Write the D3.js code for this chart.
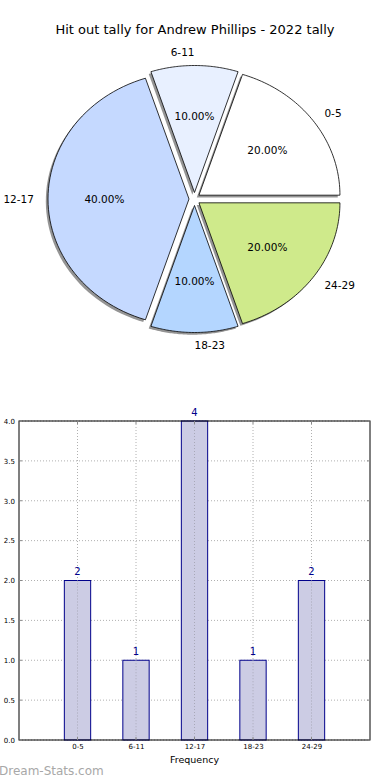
<!DOCTYPE html>
<html><head><meta charset="utf-8">
<script src="https://cdn.jsdelivr.net/npm/d3@7"></script>
<style>body{margin:0;background:#fff}svg{display:block}text{font-family:"DejaVu Sans",sans-serif}</style>
</head><body>
<svg id="c" width="390" height="780"></svg>
<script>
const title = "Hit out tally for Andrew Phillips - 2022 tally";
const categories = ["0-5","6-11","12-17","18-23","24-29"];
const counts = [2,1,4,1,2];
const sliceColors = ["#ffffff","#e8f0ff","#c5d9ff","#b4d6ff","#cfea8b"];
const yTicks = [0,0.5,1,1.5,2,2.5,3,3.5,4];
const xLabel = "Frequency";
const watermark = "Dream-Stats.com";

const svg = d3.select("#c");
svg.append("text").attr("x",195).attr("y",34).attr("text-anchor","middle")
  .attr("font-size",13).attr("fill","#000").text(title);

// ---- pie ----
const cx = 194.5, cy = 199, rx = 141, ry = 127, ex = 5.5, ey = 6.5;
const total = d3.sum(counts);
const pie = d3.pie().sort(null).startAngle(0).endAngle(2*Math.PI).value(d=>d);
const arcsData = pie(counts);
function wedgePath(a0, a1){
  const p = d3.path();
  p.moveTo(0,0);
  const n = 60;
  for(let i=0;i<=n;i++){
    const t = a0 + (a1-a0)*i/n;
    p.lineTo(rx*Math.cos(t), -ry*Math.sin(t));
  }
  p.closePath();
  return p.toString();
}
const pieG = svg.append("g");
const wedges = arcsData.map((d,i)=>{
  const a0 = d.startAngle, a1 = d.endAngle, am = (a0+a1)/2;
  const ox = cx + ex*Math.cos(am), oy = cy - ey*Math.sin(am);
  return {i, a0, a1, am, ox, oy, v:d.value};
});
pieG.selectAll("path.sh").data(wedges).join("path").attr("class","sh")
  .attr("transform",d=>`translate(${d.ox-2.2},${d.oy+2.2})`)
  .attr("d",d=>wedgePath(d.a0,d.a1))
  .attr("fill","#000").attr("fill-opacity",0.42).attr("stroke","none");
pieG.selectAll("path.w").data(wedges).join("path").attr("class","w")
  .attr("transform",d=>`translate(${d.ox},${d.oy})`)
  .attr("d",d=>wedgePath(d.a0,d.a1))
  .attr("fill",d=>sliceColors[d.i]).attr("stroke","#000").attr("stroke-width",0.8)
  .attr("stroke-linejoin","round");
wedges.forEach(d=>{
  const c = Math.cos(d.am), s = Math.sin(d.am);
  const lx = d.ox + 1.1*rx*c, ly = d.oy - 1.1*ry*s;
  let anchor = c > 1e-6 ? "start" : (c < -1e-6 ? "end" : (s>0?"end":"start"));
  pieG.append("text").attr("x",lx).attr("y",ly).attr("dy","0.35em")
    .attr("text-anchor",anchor).attr("font-size",10.5).text(categories[d.i]);
  const px = d.ox + 0.6*rx*c, py = d.oy - 0.6*ry*s;
  pieG.append("text").attr("x",px).attr("y",py).attr("dy","0.35em")
    .attr("text-anchor","middle").attr("font-size",10.5)
    .text((100*d.v/total).toFixed(2)+"%");
});

// ---- bar chart ----
const L = 19, R = 370, T = 421, B = 740;
const x = d3.scaleLinear().domain([0,6]).range([L,R]);
const y = d3.scaleLinear().domain([0,4]).range([B,T]);
const bg = svg.append("g");
const pos = categories.map((c,i)=>i+1);
bg.selectAll("line.gy").data(yTicks).join("line")
  .attr("x1",L).attr("x2",R).attr("y1",d=>y(d)).attr("y2",d=>y(d))
  .attr("stroke","#b0b0b0").attr("stroke-width",1).attr("stroke-dasharray","1,2");
bg.selectAll("line.gx").data(pos).join("line")
  .attr("y1",T).attr("y2",B).attr("x1",d=>x(d)).attr("x2",d=>x(d))
  .attr("stroke","#b0b0b0").attr("stroke-width",1).attr("stroke-dasharray","1,2");
const bw = 0.45;
bg.selectAll("rect.b").data(counts).join("rect")
  .attr("x",(d,i)=>x(pos[i]-bw/2)).attr("width",x(bw)-x(0))
  .attr("y",d=>y(d)).attr("height",d=>y(0)-y(d))
  .attr("fill","#ccccE4").attr("stroke","#00008b").attr("stroke-width",1);
bg.selectAll("line.gx2").data(pos).join("line")
  .attr("y1",(d,i)=>y(counts[i])).attr("y2",B).attr("x1",d=>x(d)).attr("x2",d=>x(d))
  .attr("stroke","#a8a8b8").attr("stroke-width",1).attr("stroke-dasharray","1,2");
bg.selectAll("text.v").data(counts).join("text")
  .attr("x",(d,i)=>x(pos[i])).attr("y",d=>y(d)-5.5).attr("text-anchor","middle")
  .attr("font-size",10).attr("fill","#00008b").text(d=>d);
bg.append("rect").attr("x",L).attr("y",T).attr("width",R-L).attr("height",B-T)
  .attr("fill","none").attr("stroke","#000").attr("stroke-width",1);
const yAx = bg.append("g").attr("transform",`translate(${L},0)`)
  .call(d3.axisLeft(y).tickValues(yTicks).tickFormat(d3.format(".1f")).tickSize(0).tickPadding(4));
yAx.select(".domain").remove();
yAx.selectAll("text").attr("font-size",7).attr("font-family","DejaVu Sans").attr("fill","#000");
bg.selectAll("line.tl").data(yTicks).join("line")
  .attr("x1",L).attr("x2",L+3).attr("y1",d=>y(d)).attr("y2",d=>y(d)).attr("stroke","#888");
bg.selectAll("line.tr").data(yTicks).join("line")
  .attr("x1",R-3).attr("x2",R).attr("y1",d=>y(d)).attr("y2",d=>y(d)).attr("stroke","#888");
bg.selectAll("line.tb").data(pos).join("line")
  .attr("x1",d=>x(d)).attr("x2",d=>x(d)).attr("y1",B-3).attr("y2",B).attr("stroke","#888");
bg.selectAll("line.tt").data(pos).join("line")
  .attr("x1",d=>x(d)).attr("x2",d=>x(d)).attr("y1",T).attr("y2",T+3).attr("stroke","#888");
const xAx = bg.append("g").attr("transform",`translate(0,${B})`)
  .call(d3.axisBottom(x).tickValues(pos).tickFormat((d,i)=>categories[i]).tickSize(0).tickPadding(4));
xAx.select(".domain").remove();
xAx.selectAll("text").attr("font-size",7).attr("font-family","DejaVu Sans").attr("fill","#000");
svg.append("text").attr("x",x(3)).attr("y",763).attr("text-anchor","middle")
  .attr("font-size",9.5).text(xLabel);
svg.append("text").attr("x",-1).attr("y",775).attr("font-size",12)
  .attr("fill","#a8a8a8").text(watermark);
</script>
</body></html>
